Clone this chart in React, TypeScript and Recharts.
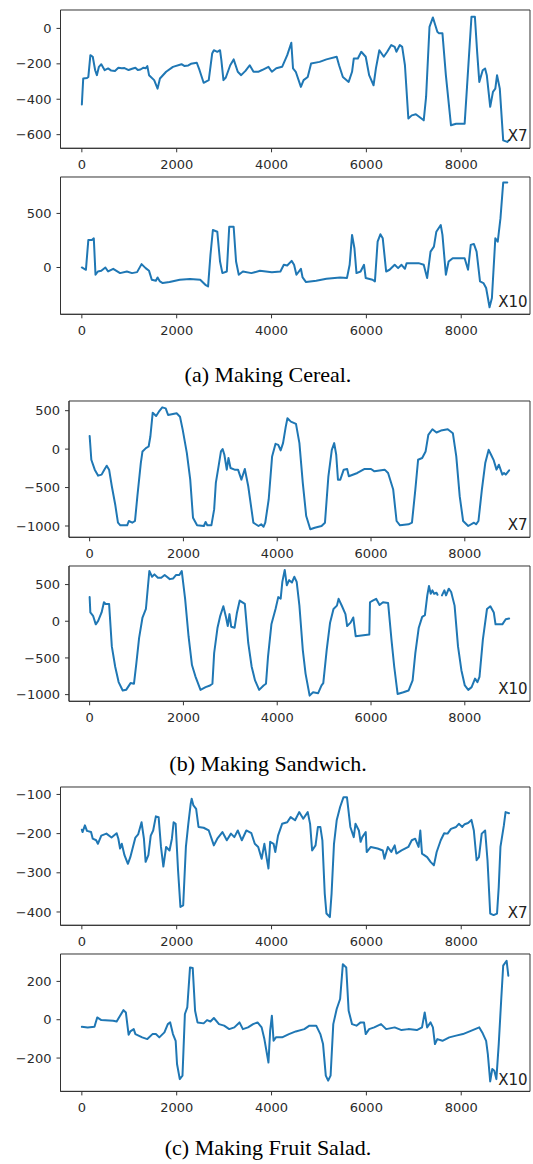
import React from 'react';
import { LineChart, Line, XAxis, YAxis, ReferenceArea } from 'recharts';

type Pt = [number, number | null];

const xTicks = [0, 2000, 4000, 6000, 8000];

const cerealX7: Pt[] = [[0,-430],[29,-283],[108,-280],[137,-274],[180,-151],[230,-160],[281,-236],[317,-264],[360,-217],[410,-202],[482,-236],[554,-226],[620,-238],[698,-240],[770,-222],[842,-225],[900,-224],[986,-235],[1060,-228],[1129,-222],[1180,-235],[1237,-232],[1300,-222],[1345,-225],[1381,-213],[1417,-264],[1525,-292],[1597,-340],[1647,-283],[1777,-245],[1921,-217],[2101,-202],[2160,-212],[2245,-209],[2300,-200],[2424,-194],[2482,-236],[2568,-307],[2676,-292],[2748,-142],[2784,-123],[2856,-132],[2914,-123],[2942,-179],[2986,-292],[3036,-277],[3129,-208],[3201,-175],[3288,-245],[3360,-264],[3450,-240],[3540,-208],[3620,-245],[3719,-245],[3800,-235],[3935,-217],[4007,-245],[4100,-225],[4223,-217],[4331,-151],[4417,-81],[4453,-226],[4511,-245],[4619,-330],[4676,-292],[4763,-274],[4834,-198],[5014,-189],[5158,-175],[5374,-160],[5424,-208],[5504,-274],[5626,-302],[5698,-245],[5734,-170],[5820,-170],[5892,-132],[5986,-160],[6058,-264],[6151,-321],[6201,-226],[6273,-123],[6367,-160],[6439,-132],[6525,-94],[6597,-104],[6633,-132],[6705,-94],[6755,-104],[6813,-208],[6885,-509],[6957,-491],[7043,-485],[7209,-519],[7259,-387],[7331,9],[7403,62],[7496,-19],[7532,-28],[7604,-28],[7676,-264],[7784,-547],[7892,-538],[8072,-538],[8122,-330],[8216,66],[8288,66],[8338,-142],[8381,-302],[8453,-236],[8503,-226],[8539,-264],[8611,-443],[8669,-358],[8719,-340],[8755,-264],[8791,-311],[8813,-340],[8885,-632],[8971,-641],[9007,-632]];

const cerealX10: Pt[] = [[0,0],[86,-21],[137,255],[209,255],[252,270],[288,-67],[338,-37],[410,-31],[496,0],[554,-37],[662,-12],[806,-52],[950,-37],[1058,-52],[1165,-43],[1259,31],[1345,-6],[1417,-31],[1475,-113],[1561,-123],[1597,-92],[1647,-129],[1705,-144],[1849,-135],[2065,-113],[2280,-107],[2496,-113],[2604,-160],[2662,-175],[2712,117],[2763,347],[2856,331],[2914,55],[2964,-52],[3057,-37],[3108,377],[3201,377],[3252,55],[3309,-67],[3396,-37],[3575,-52],[3755,-31],[4007,-43],[4187,-37],[4259,25],[4331,18],[4424,61],[4475,25],[4525,-67],[4619,-12],[4655,-92],[4727,-135],[4942,-123],[5158,-104],[5446,-92],[5590,-98],[5647,25],[5698,301],[5748,178],[5791,-52],[5878,-37],[5950,25],[5986,-98],[6129,-113],[6180,-129],[6237,239],[6295,307],[6345,270],[6417,-37],[6489,-21],[6597,25],[6669,-6],[6741,25],[6813,-12],[6849,40],[7101,40],[7209,25],[7281,-98],[7353,147],[7424,193],[7475,331],[7568,393],[7604,301],[7676,-67],[7734,55],[7820,86],[8072,86],[8144,-21],[8201,209],[8266,218],[8324,147],[8396,-129],[8468,-144],[8525,-190],[8597,-368],[8647,-282],[8719,270],[8770,239],[8827,454],[8885,785],[8971,785]];

const sandwichX7: Pt[] = [[0,172],[36,-138],[109,-267],[182,-345],[255,-332],[313,-267],[364,-216],[415,-267],[473,-483],[545,-720],[604,-957],[655,-991],[800,-991],[836,-935],[909,-957],[967,-935],[1018,-612],[1091,-181],[1127,-30],[1200,13],[1258,34],[1295,164],[1345,474],[1418,431],[1476,487],[1549,543],[1622,530],[1673,444],[1855,466],[1927,422],[1985,250],[2073,-52],[2145,-397],[2204,-892],[2291,-991],[2436,-1000],[2473,-948],[2509,-991],[2596,-991],[2655,-784],[2691,-440],[2749,-224],[2800,-30],[2836,0],[2873,-73],[2924,-267],[2960,-116],[3004,-246],[3091,-267],[3164,-267],[3236,-397],[3309,-259],[3382,-483],[3491,-957],[3600,-1000],[3658,-978],[3709,-1009],[3745,-957],[3818,-655],[3891,-95],[3964,69],[4022,56],[4073,-17],[4124,78],[4182,293],[4218,401],[4291,358],[4400,328],[4473,78],[4545,-440],[4618,-871],[4705,-1043],[4800,-1022],[4945,-1000],[5018,-957],[5091,-353],[5164,-9],[5215,78],[5258,-73],[5295,-397],[5345,-397],[5418,-267],[5491,-259],[5527,-353],[5709,-310],[5855,-259],[6000,-259],[6073,-289],[6291,-267],[6364,-310],[6473,-526],[6545,-935],[6618,-991],[6800,-978],[6873,-957],[6945,-526],[7004,-138],[7091,-116],[7164,-30],[7222,185],[7309,259],[7396,216],[7491,241],[7636,259],[7745,207],[7818,-95],[7891,-612],[7964,-935],[8073,-1000],[8196,-957],[8240,-978],[8291,-935],[8364,-526],[8436,-181],[8509,-9],[8560,-73],[8618,-147],[8676,-267],[8727,-203],[8800,-332],[8836,-310],[8873,-332],[8945,-276]];

const sandwichX10: Pt[] = [[0,329],[15,120],[73,74],[131,-42],[182,5],[255,120],[305,259],[342,236],[415,236],[473,-343],[545,-620],[618,-829],[705,-944],[778,-935],[873,-843],[945,-852],[996,-574],[1055,-227],[1127,51],[1200,167],[1273,685],[1331,606],[1382,639],[1455,593],[1527,593],[1600,630],[1709,574],[1782,583],[1840,630],[1913,630],[1964,685],[2036,306],[2109,-204],[2182,-597],[2255,-750],[2364,-935],[2473,-898],[2567,-875],[2618,-852],[2655,-435],[2727,-88],[2785,74],[2851,204],[2909,51],[2945,-65],[2982,97],[3018,-74],[3091,-88],[3142,120],[3200,282],[3309,236],[3382,-296],[3455,-620],[3527,-806],[3615,-935],[3709,-875],[3760,-852],[3804,-481],[3876,-42],[3964,167],[4022,329],[4073,306],[4109,537],[4160,699],[4204,491],[4255,560],[4313,528],[4364,606],[4415,537],[4473,213],[4545,-389],[4604,-713],[4691,-1014],[4764,-968],[4873,-981],[4945,-875],[4982,-843],[5055,-389],[5127,-19],[5200,167],[5273,213],[5309,306],[5382,204],[5455,97],[5491,-65],[5564,-19],[5622,51],[5673,-204],[5964,-181],[5978,259],[6036,282],[6109,306],[6182,222],[6255,259],[6364,250],[6436,-250],[6495,-620],[6567,-991],[6691,-968],[6800,-944],[6887,-806],[6945,-435],[7018,-88],[7091,60],[7149,83],[7200,352],[7236,481],[7273,375],[7309,421],[7345,375],[7396,389],[7418,361],[7465,null],[7513,352],[7564,421],[7600,352],[7658,444],[7709,398],[7782,213],[7855,-343],[7927,-667],[8000,-875],[8073,-935],[8145,-898],[8218,-782],[8269,-829],[8313,-759],[8385,-250],[8473,167],[8545,204],[8618,120],[8655,-42],[8800,-42],[8873,28],[8945,37]];

const saladX7: Pt[] = [[0,-190],[14,-196],[65,-179],[108,-193],[194,-196],[230,-213],[302,-217],[338,-226],[410,-205],[518,-200],[626,-210],[734,-199],[770,-213],[806,-238],[842,-226],[899,-255],[971,-277],[1022,-260],[1129,-210],[1187,-202],[1259,-171],[1309,-213],[1345,-272],[1403,-255],[1453,-205],[1504,-192],[1561,-156],[1619,-158],[1669,-234],[1719,-284],[1777,-234],[1849,-243],[1899,-213],[1935,-171],[1978,-175],[2029,-294],[2079,-387],[2137,-383],[2194,-234],[2245,-175],[2295,-124],[2316,-111],[2353,-128],[2410,-137],[2460,-183],[2568,-185],[2676,-192],[2784,-230],[2856,-213],[2964,-196],[3057,-217],[3144,-200],[3216,-209],[3288,-192],[3374,-217],[3468,-192],[3575,-199],[3647,-226],[3719,-234],[3791,-264],[3849,-226],[3899,-264],[3935,-289],[3971,-221],[4043,-226],[4079,-247],[4137,-205],[4223,-175],[4331,-171],[4403,-158],[4496,-166],[4583,-145],[4669,-162],[4763,-145],[4813,-175],[4856,-243],[4928,-230],[4978,-183],[5029,-183],[5072,-217],[5122,-353],[5158,-404],[5230,-413],[5266,-353],[5317,-226],[5374,-166],[5446,-132],[5518,-107],[5590,-107],[5662,-183],[5734,-209],[5770,-175],[5842,-192],[5878,-221],[5914,-209],[5986,-196],[6007,-247],[6093,-234],[6237,-238],[6345,-243],[6381,-264],[6453,-234],[6525,-247],[6597,-230],[6633,-251],[6741,-243],[6885,-234],[6957,-217],[7029,-213],[7101,-234],[7137,-192],[7173,-251],[7281,-260],[7353,-272],[7424,-281],[7482,-247],[7568,-217],[7640,-199],[7712,-200],[7784,-188],[7892,-183],[7950,-175],[8022,-183],[8072,-176],[8144,-173],[8216,-165],[8266,-192],[8324,-268],[8374,-260],[8432,-200],[8504,-192],[8554,-268],[8611,-404],[8683,-408],[8755,-404],[8791,-336],[8827,-234],[8899,-179],[8935,-145],[9007,-148]];

const saladX10: Pt[] = [[0,-37],[122,-40],[266,-37],[324,12],[410,-2],[662,-5],[734,-9],[806,21],[878,50],[928,38],[986,-78],[1022,-61],[1094,-49],[1129,-75],[1273,-92],[1381,-101],[1489,-75],[1561,-75],[1633,-92],[1741,-66],[1813,-23],[1863,-14],[1921,-75],[1978,-110],[2007,-231],[2065,-310],[2122,-292],[2173,30],[2223,64],[2281,273],[2338,270],[2388,47],[2439,-14],[2568,-19],[2640,-2],[2712,-9],[2784,9],[2892,-23],[3000,-31],[3108,-49],[3216,-40],[3324,-14],[3396,-49],[3504,-40],[3611,-23],[3705,-14],[3791,-40],[3849,-101],[3935,-223],[3971,-57],[4007,21],[4043,-110],[4093,-92],[4223,-92],[4367,-75],[4511,-61],[4691,-49],[4799,-31],[4942,-31],[5029,-75],[5086,-127],[5144,-292],[5194,-318],[5245,-292],[5302,-23],[5374,56],[5446,108],[5504,290],[5575,273],[5626,47],[5698,-23],[5791,-31],[5878,-14],[5950,-14],[5986,-75],[6058,-49],[6165,-40],[6309,-23],[6417,-49],[6597,-40],[6741,-54],[6885,-49],[7065,-54],[7173,-40],[7230,38],[7281,-40],[7353,-14],[7403,-40],[7446,-127],[7496,-101],[7604,-110],[7748,-92],[7892,-83],[8036,-75],[8216,-57],[8381,-40],[8453,-71],[8525,-110],[8561,-179],[8611,-322],[8655,-257],[8698,-266],[8741,-310],[8791,-127],[8842,99],[8885,282],[8957,308],[8993,230]];

const cerealTicks = [-600, -400, -200, 0];
const cerealX10Ticks = [0, 500];
const sandwichTicks = [-1000, -500, 0, 500];
const saladX7Ticks = [-400, -300, -200, -100];
const saladX10Ticks = [-200, 0, 200];

const captions = ['(a) Making Cereal.', '(b) Making Sandwich.', '(c) Making Fruit Salad.'];

type PanelCfg = {
  pts: Pt[];
  tag: string;
  left: number;
  right: number;
  top: number;
  bottom: number;
  xDomain: [number, number];
  yDomain: [number, number];
  yTicks: number[];
};

const panels: PanelCfg[] = [
  { pts: cerealX7, tag: 'X7', left: 60.5, right: 530, top: 10, bottom: 148.3, xDomain: [-450, 9450], yDomain: [-677, 104], yTicks: cerealTicks },
  { pts: cerealX10, tag: 'X10', left: 60.5, right: 530, top: 176.7, bottom: 314, xDomain: [-450, 9450], yDomain: [-433, 837], yTicks: cerealX10Ticks },
  { pts: sandwichX7, tag: 'X7', left: 69, right: 530, top: 401, bottom: 537.3, xDomain: [-440, 9390], yDomain: [-1147, 626], yTicks: sandwichTicks },
  { pts: sandwichX10, tag: 'X10', left: 69, right: 530, top: 565.7, bottom: 701, xDomain: [-440, 9390], yDomain: [-1091, 753], yTicks: sandwichTicks },
  { pts: saladX7, tag: 'X7', left: 60.5, right: 530, top: 786.7, bottom: 925, xDomain: [-450, 9450], yDomain: [-434, -81], yTicks: saladX7Ticks },
  { pts: saladX10, tag: 'X10', left: 60.5, right: 530, top: 954.3, bottom: 1091.7, xDomain: [-450, 9450], yDomain: [-374, 343], yTicks: saladX10Ticks },
];

const captionBaselines = [381.5, 771, 1155];

const fmt = (v: number) => String(v).replace('-', '\u2212');

const tickStyle = { fill: '#2a2a2a', fontSize: 13, fontFamily: 'DejaVu Sans' };

const TOP_PAD = 5;
const AXIS_H = 30;

function Panel({ cfg }: { cfg: PanelCfg }) {
  const data = cfg.pts.map(([x, y]) => ({ x, y }));
  const h = TOP_PAD + (cfg.bottom - cfg.top) + AXIS_H;
  return (
    <div style={{ position: 'absolute', left: 0, top: cfg.top - TOP_PAD }}>
      <LineChart
        width={533}
        height={h}
        data={data}
        margin={{ top: TOP_PAD, right: 533 - cfg.right, bottom: 0, left: 0 }}
      >
        <XAxis
          dataKey="x"
          type="number"
          domain={cfg.xDomain}
          ticks={xTicks}
          allowDataOverflow
          height={AXIS_H}
          tickSize={4}
          tickMargin={7}
          tick={tickStyle}
          tickFormatter={fmt}
          stroke="#333"
          interval={0}
        />
        <YAxis
          type="number"
          domain={cfg.yDomain}
          ticks={cfg.yTicks}
          allowDataOverflow
          width={cfg.left}
          tickSize={4}
          tickMargin={5}
          tick={tickStyle}
          tickFormatter={fmt}
          stroke="#333"
          interval={0}
        />
        <ReferenceArea
          x1={cfg.xDomain[0]}
          x2={cfg.xDomain[1]}
          y1={cfg.yDomain[0]}
          y2={cfg.yDomain[1]}
          fill="none"
          stroke="#333"
          strokeWidth={1}
        />
        <Line
          type="linear"
          dataKey="y"
          stroke="#1f77b4"
          strokeWidth={2}
          strokeLinejoin="round"
          strokeLinecap="round"
          dot={false}
          isAnimationActive={false}
          connectNulls={false}
        />
      </LineChart>
    </div>
  );
}

export default function App() {
  return (
    <div style={{ position: 'absolute', left: 0, top: 0, width: 533, height: 1164, background: '#fff', overflow: 'hidden' }}>
      {panels.map((p, i) => (
        <Panel key={i} cfg={p} />
      ))}
      <svg width={533} height={1164} style={{ position: 'absolute', left: 0, top: 0, pointerEvents: 'none' }}>
        {panels.map((p, i) => (
          <text key={'t' + i} x={p.right - 2.5} y={p.bottom - 7} textAnchor="end" fontFamily="DejaVu Sans" fontSize={15} fill="#222">
            {p.tag}
          </text>
        ))}
        {captions.map((c, i) => (
          <text key={'c' + i} x={268} y={captionBaselines[i]} textAnchor="middle" fontFamily="Liberation Serif" fontSize={22} fill="#000">
            {c}
          </text>
        ))}
      </svg>
    </div>
  );
}
